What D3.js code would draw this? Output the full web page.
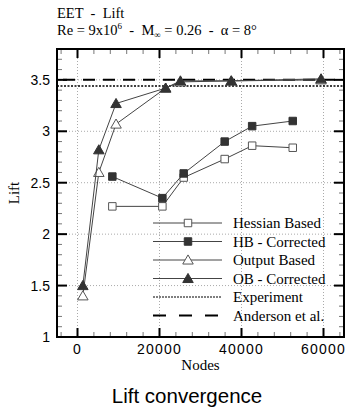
<!DOCTYPE html>
<html>
<head>
<meta charset="utf-8">
<script src="https://cdn.jsdelivr.net/npm/d3@7"></script>
<style>
  body { margin: 0; background: #fff; }
  svg { display: block; }
</style>
</head>
<body>
<div id="chart"></div>
<script>
// data
const hbNodes = [8500, 20700, 25900, 35900, 42600, 52500];
const hessianBased = [2.27, 2.27, 2.55, 2.73, 2.86, 2.84];
const hbCorrected = [2.56, 2.35, 2.59, 2.90, 3.05, 3.10];
const obNodes = [1300, 5200, 9400, 21500, 25100, 37500, 59400];
const outputBased = [1.40, 2.60, 3.07, 3.42, 3.48, 3.49, 3.50];
const obCorrected = [1.50, 2.82, 3.27, 3.42, 3.49, 3.49, 3.51];
const experiment = 3.44;
const anderson = 3.5;
const xTicks = [0, 20000, 40000, 60000];
const yTicks = [1, 1.5, 2, 2.5, 3, 3.5];
const legendLabels = ["Hessian Based", "HB - Corrected", "Output Based", "OB - Corrected", "Experiment", "Anderson et al."];

(function () {
const W = 348, H = 408;
const pLeft = 57, pRight = 344, pTop = 49, pBottom = 337;
const serif = "'Liberation Serif', 'DejaVu Serif', serif";
const sans = "'Liberation Sans', Arial, sans-serif";

const svg = d3.select("#chart").append("svg")
    .attr("width", W)
    .attr("height", H);

const x = d3.scaleLinear().domain([-5000, 65000]).range([pLeft, pRight]);
const y = d3.scaleLinear().domain([1, 3.8]).range([pBottom, pTop]);

// grid
const grid = svg.append("g")
    .attr("stroke", "#aaa")
    .attr("stroke-width", 1)
    .attr("stroke-dasharray", "1,2");
grid.selectAll("line.gx").data(xTicks).join("line")
    .attr("x1", d => x(d)).attr("x2", d => x(d))
    .attr("y1", pTop).attr("y2", pBottom);
grid.selectAll("line.gy").data(yTicks.slice(1)).join("line")
    .attr("y1", d => y(d)).attr("y2", d => y(d))
    .attr("x1", pLeft).attr("x2", pRight);

// ticks on all four sides, pointing inward
const minorX = d3.range(-4000, 65000, 4000).filter(d => !xTicks.includes(d));
const minorY = d3.range(11, 38).map(d => d / 10).filter(d => !yTicks.includes(d));
const ticks = svg.append("g");
function tickSet(vals, len, width, color) {
  vals.forEach(v => {
    ticks.append("line").attr("x1", x(v)).attr("x2", x(v)).attr("y1", pBottom).attr("y2", pBottom - len)
      .attr("stroke", color).attr("stroke-width", width);
    ticks.append("line").attr("x1", x(v)).attr("x2", x(v)).attr("y1", pTop).attr("y2", pTop + len)
      .attr("stroke", color).attr("stroke-width", width);
  });
}
function tickSetY(vals, len, width, color) {
  vals.forEach(v => {
    ticks.append("line").attr("y1", y(v)).attr("y2", y(v)).attr("x1", pLeft).attr("x2", pLeft + len)
      .attr("stroke", color).attr("stroke-width", width);
    ticks.append("line").attr("y1", y(v)).attr("y2", y(v)).attr("x1", pRight).attr("x2", pRight - len)
      .attr("stroke", color).attr("stroke-width", width);
  });
}
tickSet(minorX, 5, 1, "#777");
tickSet(xTicks, 9, 2, "#000");
tickSetY(minorY, 5, 1, "#777");
tickSetY(yTicks.slice(1), 10, 2, "#000");

// reference lines
svg.append("line")
    .attr("x1", pLeft).attr("x2", pRight)
    .attr("y1", y(experiment)).attr("y2", y(experiment))
    .attr("stroke", "#000").attr("stroke-width", 1.5)
    .attr("stroke-dasharray", "2,1.5");
svg.append("line")
    .attr("x1", pLeft + 6).attr("x2", pRight)
    .attr("y1", y(anderson)).attr("y2", y(anderson))
    .attr("stroke", "#000").attr("stroke-width", 2)
    .attr("stroke-dasharray", "12,8");

// series
const line = d3.line().x(d => x(d[0])).y(d => y(d[1]));
const series = [
  { name: legendLabels[0], nodes: hbNodes, vals: hessianBased, shape: d3.symbolSquare, filled: false },
  { name: legendLabels[1], nodes: hbNodes, vals: hbCorrected, shape: d3.symbolSquare, filled: true },
  { name: legendLabels[2], nodes: obNodes, vals: outputBased, shape: d3.symbolTriangle, filled: false },
  { name: legendLabels[3], nodes: obNodes, vals: obCorrected, shape: d3.symbolTriangle, filled: true }
];
function markerSize(s) { return s.shape === d3.symbolSquare ? 56 : 48; }
function markerPath(s) { return d3.symbol().type(s.shape).size(markerSize(s))(); }

series.forEach(s => {
  const pts = s.nodes.map((n, i) => [n, s.vals[i]]);
  svg.append("path")
      .attr("d", line(pts))
      .attr("fill", "none")
      .attr("stroke", "#444")
      .attr("stroke-width", 1);
  svg.append("g").selectAll("path").data(pts).join("path")
      .attr("d", markerPath(s))
      .attr("transform", d => `translate(${x(d[0])},${y(d[1]) + (s.shape === d3.symbolTriangle ? 1 : 0)})`)
      .attr("fill", s.filled ? "#333" : "#fff")
      .attr("stroke", s.filled ? "#333" : "#555")
      .attr("stroke-width", 1);
});

// frame
svg.append("rect")
    .attr("x", pLeft).attr("y", pTop)
    .attr("width", pRight - pLeft).attr("height", pBottom - pTop)
    .attr("fill", "none").attr("stroke", "#000").attr("stroke-width", 2);

// tick labels
svg.append("g").selectAll("text").data(xTicks).join("text")
    .attr("x", d => x(d)).attr("y", 354)
    .attr("text-anchor", "middle")
    .attr("font-family", sans).attr("font-size", 14)
    .attr("letter-spacing", 1.2)
    .text(d => d);
svg.append("g").selectAll("text").data(yTicks).join("text")
    .attr("x", 50).attr("y", d => y(d) + 5)
    .attr("text-anchor", "end")
    .attr("font-family", sans).attr("font-size", 14)
    .text(d => d);

// axis titles
svg.append("text")
    .attr("x", (pLeft + pRight) / 2).attr("y", 370)
    .attr("text-anchor", "middle")
    .attr("font-family", serif).attr("font-size", 15)
    .text("Nodes");
svg.append("text")
    .attr("transform", `translate(19,${(pTop + pBottom) / 2}) rotate(-90)`)
    .attr("text-anchor", "middle")
    .attr("font-family", serif).attr("font-size", 15)
    .text("Lift");

// title
svg.append("text")
    .attr("x", pLeft).attr("y", 18)
    .attr("font-family", serif).attr("font-size", 14.5)
    .attr("xml:space", "preserve")
    .text("EET  -  Lift");
const t2 = svg.append("text")
    .attr("x", pLeft).attr("y", 35)
    .attr("font-family", serif).attr("font-size", 14.5)
    .attr("xml:space", "preserve");
t2.append("tspan").text("Re = 9x10");
t2.append("tspan").attr("dy", -6).attr("font-size", 9).text("6");
t2.append("tspan").attr("dy", 6).text("  -  M");
t2.append("tspan").attr("dy", 3).attr("font-size", 9).text("∞");
t2.append("tspan").attr("dy", -3).text(" = 0.26  -  α = 8°");

// legend
const legX0 = 153, legX1 = 222, legMid = 188, legText = 233;
const legY = d => 223 + d * 18.5;
series.forEach((s, i) => {
  svg.append("line")
      .attr("x1", legX0).attr("x2", legX1)
      .attr("y1", legY(i)).attr("y2", legY(i))
      .attr("stroke", "#444").attr("stroke-width", 1);
  svg.append("path")
      .attr("d", markerPath(s))
      .attr("transform", `translate(${legMid},${legY(i) + (s.shape === d3.symbolTriangle ? 1 : 0)})`)
      .attr("fill", s.filled ? "#333" : "#fff")
      .attr("stroke", s.filled ? "#333" : "#555");
});
svg.append("line")
    .attr("x1", legX0).attr("x2", legX1)
    .attr("y1", legY(4)).attr("y2", legY(4))
    .attr("stroke", "#000").attr("stroke-width", 1.2)
    .attr("stroke-dasharray", "2,1");
svg.append("line")
    .attr("x1", legX0).attr("x2", legX1 - 3)
    .attr("y1", legY(5)).attr("y2", legY(5))
    .attr("stroke", "#000").attr("stroke-width", 2)
    .attr("stroke-dasharray", "13,13");
svg.append("g").selectAll("text").data(legendLabels).join("text")
    .attr("x", legText).attr("y", (d, i) => legY(i) + 5)
    .attr("font-family", serif).attr("font-size", 15)
    .text(d => d);

// caption
svg.append("text")
    .attr("x", 187).attr("y", 403)
    .attr("text-anchor", "middle")
    .attr("font-family", sans).attr("font-size", 20.5)
    .text("Lift convergence");
})();
</script>
</body>
</html>
